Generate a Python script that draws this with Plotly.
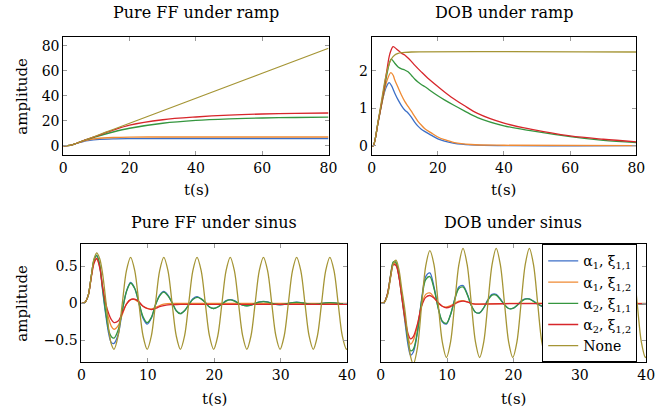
import plotly.graph_objects as go

# ---------------- data ----------------
series_names = ["α<sub>1</sub>, ξ<sub>1,1</sub>", "α<sub>1</sub>, ξ<sub>1,2</sub>",
                "α<sub>2</sub>, ξ<sub>1,1</sub>", "α<sub>2</sub>, ξ<sub>1,2</sub>", "None"]
colors = ["#3c6fc7", "#ef8a33", "#35963f", "#d7262b", "#a59535"]

# Pure FF under ramp
t_ff_ramp = [0, 2, 4, 6, 8, 10, 15, 20, 30, 40, 50, 60, 70, 80]
ff_ramp_a1x11 = [0, 0.3, 1.8, 3.4, 4.3, 4.9, 5.5, 5.7, 5.8, 5.8, 5.8, 5.8, 5.8, 5.8]
ff_ramp_a1x12 = [0, 0.3, 2.0, 3.8, 5.0, 5.8, 6.6, 6.9, 7.0, 7.0, 7.0, 7.0, 7.0, 7.0]
ff_ramp_a2x11 = [0, 0.3, 2.0, 4.0, 5.7, 7.3, 11.0, 14.0, 18.0, 20.3, 21.5, 22.2, 22.6, 22.9]
ff_ramp_a2x12 = [0, 0.3, 2.0, 4.0, 6.0, 7.8, 12.5, 16.5, 20.8, 23.0, 24.5, 25.4, 25.9, 26.2]
ff_ramp_none = [0, 0.3, 2.0, 4.0, 6.0, 8.0, 13.0, 18.0, 28.0, 38.0, 48.0, 58.0, 68.0, 78.0]

# DOB under ramp
t_dob_ramp_a1x11 = [0, 0.5, 2, 3.5, 4.5, 5.3, 6, 7, 8, 9, 10, 11, 12, 13, 14, 15, 16, 18, 20, 22, 25, 30, 40, 80]
dob_ramp_a1x11 = [0, 0, 0.65, 1.3, 1.58, 1.68, 1.6, 1.4, 1.22, 1.07, 0.95, 0.87, 0.76, 0.63, 0.52, 0.44, 0.38,
                  0.28, 0.18, 0.12, 0.06, 0.02, 0, 0]
t_dob_ramp_a1x12 = [0, 0.5, 2, 3.5, 4.5, 5.8, 6.5, 7, 8, 9, 10, 11, 12, 13, 14, 15, 16, 18, 20, 22, 25, 30, 40, 80]
dob_ramp_a1x12 = [0, 0, 0.65, 1.3, 1.7, 1.95, 1.88, 1.75, 1.55, 1.35, 1.18, 1.05, 0.92, 0.78, 0.65, 0.55, 0.46,
                  0.34, 0.23, 0.16, 0.08, 0.03, 0.01, 0]
t_dob_ramp_a2x11 = [0, 0.5, 2, 3.5, 4.5, 5.9, 7, 8, 9, 10, 11, 12, 13, 14, 15, 16, 17, 18, 20, 22, 25, 28, 32,
                    40, 48, 60, 70, 80]
dob_ramp_a2x11 = [0, 0, 0.65, 1.35, 1.85, 2.31, 2.2, 2.1, 2.05, 2.02, 1.97, 1.88, 1.78, 1.7, 1.63, 1.58, 1.52,
                  1.45, 1.33, 1.22, 1.07, 0.93, 0.75, 0.53, 0.4, 0.24, 0.14, 0.08]
t_dob_ramp_a2x12 = [0, 0.5, 2, 3.5, 4.5, 5.5, 6.5, 7.5, 9, 10, 11, 12, 13, 15, 17, 20, 24, 28, 32, 40, 48, 60, 70, 80]
dob_ramp_a2x12 = [0, 0, 0.65, 1.4, 1.95, 2.45, 2.64, 2.58, 2.47, 2.42, 2.34, 2.25, 2.15, 1.97, 1.8, 1.58, 1.3,
                  1.07, 0.86, 0.6, 0.44, 0.26, 0.17, 0.1]
t_dob_ramp_none = [0, 0.5, 2, 3, 4, 5, 6, 7, 8, 9, 10, 12, 80]
dob_ramp_none = [0, 0, 0.68, 1.2, 1.72, 2.1, 2.32, 2.42, 2.46, 2.48, 2.49, 2.5, 2.5]

# sinus time grids
t_sin = [0, 0.5, 1.0, 1.5, 1.9, 2.3, 2.75, 3.15, 3.65, 4.15, 4.5, 4.9,
         5.525, 6.15, 6.775, 7.4, 8.025, 8.65, 9.275, 9.9,
         10.525, 11.15, 11.775, 12.4, 13.025, 13.65, 14.275, 14.9,
         15.525, 16.15, 16.775, 17.4, 18.025, 18.65, 19.275, 19.9,
         20.525, 21.15, 21.775, 22.4, 23.025, 23.65, 24.275, 24.9,
         25.525, 26.15, 26.775, 27.4, 28.025, 28.65, 29.275, 29.9,
         30.525, 31.15, 31.775, 32.4, 33.025, 33.65, 34.275, 34.9,
         35.525, 36.15, 36.775, 37.4, 38.025, 38.65, 39.275, 39.9, 40]
t_sin_short = [0, 0.5, 1.0, 1.5, 1.9, 2.3, 2.75, 3.15, 3.65, 4.15, 4.5, 4.9,
               5.525, 6.15, 6.775, 7.4, 8.025, 8.65, 9.275, 9.9,
               10.525, 11.15, 11.775, 12.4, 13.025, 13.65, 14.275, 14.9,
               20, 30, 40]

# Pure FF under sinus
ff_sin_a1x11 = [0, 0.01, 0.1, 0.38, 0.58, 0.64, 0.5, 0.2, -0.15, -0.43, -0.53, -0.54,
                -0.42, -0.1, 0.16, 0.28, 0.2, 0.0, -0.2, -0.28,
                -0.2, -0.02, 0.11, 0.16, 0.11, 0.01, -0.1, -0.14,
                -0.1, -0.02, 0.06, 0.09, 0.06, 0.01, -0.05, -0.07,
                -0.05, -0.01, 0.035, 0.05, 0.035, 0.0, -0.025, -0.035,
                -0.025, 0.0, 0.018, 0.025, 0.018, 0.0, -0.014, -0.02,
                -0.014, 0.0, 0.01, 0.015, 0.01, 0.0, -0.008, -0.012,
                -0.008, 0.0, 0.006, 0.009, 0.006, 0.0, -0.005, -0.007, -0.007]
ff_sin_a1x12 = [0, 0.01, 0.1, 0.37, 0.56, 0.61, 0.5, 0.24, -0.02, -0.22, -0.31, -0.35,
                -0.3, -0.15, -0.01, 0.05, 0.05, 0.01, -0.04, -0.07,
                -0.075, -0.055, -0.03, -0.012, -0.004, 0.0, 0.0, 0.0,
                0.0, 0.0, 0.0]
ff_sin_a2x11 = [0, 0.01, 0.1, 0.38, 0.59, 0.65, 0.52, 0.22, -0.12, -0.38, -0.45, -0.47,
                -0.36, -0.1, 0.16, 0.27, 0.2, 0.01, -0.18, -0.26,
                -0.19, -0.02, 0.1, 0.15, 0.1, 0.01, -0.1, -0.14,
                -0.1, -0.02, 0.05, 0.08, 0.06, 0.01, -0.05, -0.07,
                -0.05, -0.01, 0.03, 0.045, 0.03, 0.0, -0.025, -0.033,
                -0.024, 0.0, 0.016, 0.023, 0.016, 0.0, -0.013, -0.018,
                -0.013, 0.0, 0.009, 0.013, 0.009, 0.0, -0.007, -0.01,
                -0.007, 0.0, 0.005, 0.008, 0.005, 0.0, -0.004, -0.006, -0.006]
ff_sin_a2x12 = [0, 0.01, 0.1, 0.36, 0.54, 0.6, 0.48, 0.24, 0.0, -0.15, -0.22, -0.26,
                -0.24, -0.13, -0.01, 0.05, 0.055, 0.02, -0.04, -0.07,
                -0.085, -0.07, -0.045, -0.03, -0.02, -0.018, -0.016, -0.015,
                -0.015, -0.015, -0.015]
ff_sin_none = [0, 0.01, 0.1, 0.38, 0.6, 0.68, 0.6, 0.42, 0.05, -0.38, -0.55, -0.62,
               -0.44, 0, 0.44, 0.62, 0.44, 0, -0.44, -0.62,
               -0.44, 0, 0.44, 0.62, 0.44, 0, -0.44, -0.62,
               -0.44, 0, 0.44, 0.62, 0.44, 0, -0.44, -0.62,
               -0.44, 0, 0.44, 0.62, 0.44, 0, -0.44, -0.62,
               -0.44, 0, 0.44, 0.62, 0.44, 0, -0.44, -0.62,
               -0.44, 0, 0.44, 0.62, 0.44, 0, -0.44, -0.62,
               -0.44, 0, 0.44, 0.62, 0.44, 0, -0.44, -0.62, -0.61]

# DOB under sinus
dob_sin_a1x11 = [0, 0.01, 0.12, 0.38, 0.55, 0.53, 0.36, 0.1, -0.25, -0.58, -0.7, -0.66,
                 -0.4, 0.05, 0.36, 0.41, 0.22, -0.06, -0.25, -0.28,
                 -0.15, 0.06, 0.22, 0.24, 0.13, -0.03, -0.12, -0.13,
                 -0.06, 0.05, 0.12, 0.12, 0.06, -0.02, -0.07, -0.07,
                 -0.03, 0.03, 0.06, 0.06, 0.03, -0.01, -0.04, -0.04,
                 -0.02, 0.02, 0.035, 0.035, 0.015, -0.01, -0.025, -0.02,
                 -0.01, 0.01, 0.02, 0.02, 0.01, -0.005, -0.015, -0.012,
                 -0.005, 0.006, 0.012, 0.01, 0.005, -0.004, -0.008, -0.006, -0.005]
dob_sin_a1x12 = [0, 0.01, 0.12, 0.38, 0.54, 0.53, 0.36, 0.1, -0.22, -0.47, -0.55, -0.5,
                 -0.3, -0.03, 0.12, 0.14, 0.08, 0.0, -0.04, -0.05,
                 -0.03, 0.0, 0.03, 0.035, 0.02, 0.0, -0.01, -0.01,
                 0, 0, 0]
dob_sin_a2x11 = [0, 0.01, 0.12, 0.39, 0.56, 0.55, 0.38, 0.13, -0.2, -0.52, -0.64, -0.62,
                 -0.38, 0.03, 0.32, 0.36, 0.2, -0.06, -0.24, -0.27,
                 -0.15, 0.05, 0.2, 0.22, 0.12, -0.03, -0.12, -0.13,
                 -0.06, 0.04, 0.11, 0.11, 0.05, -0.02, -0.07, -0.07,
                 -0.03, 0.02, 0.055, 0.055, 0.025, -0.01, -0.035, -0.035,
                 -0.015, 0.015, 0.03, 0.03, 0.012, -0.008, -0.02, -0.018,
                 -0.008, 0.008, 0.016, 0.015, 0.006, -0.005, -0.012, -0.01,
                 -0.004, 0.005, 0.01, 0.008, 0.003, -0.003, -0.007, -0.005, -0.004]
dob_sin_a2x12 = [0, 0.01, 0.12, 0.37, 0.52, 0.51, 0.35, 0.1, -0.2, -0.42, -0.48, -0.45,
                 -0.28, -0.04, 0.08, 0.105, 0.07, 0.01, -0.04, -0.06,
                 -0.045, -0.01, 0.02, 0.03, 0.02, 0.0, -0.01, -0.01,
                 -0.005, -0.005, -0.005]
dob_sin_none = [0, 0.01, 0.1, 0.36, 0.54, 0.58, 0.45, 0.2, -0.1, -0.5, -0.72, -0.82,
                -0.6, -0.04, 0.5, 0.71, 0.52, 0.0, -0.52, -0.73,
                -0.52, 0, 0.52, 0.74, 0.52, 0, -0.52, -0.73,
                -0.52, 0, 0.52, 0.74, 0.52, 0, -0.52, -0.73,
                -0.52, 0, 0.52, 0.74, 0.52, 0, -0.52, -0.73,
                -0.52, 0, 0.52, 0.74, 0.52, 0, -0.52, -0.73,
                -0.52, 0, 0.52, 0.74, 0.52, 0, -0.52, -0.73,
                -0.52, 0, 0.52, 0.74, 0.52, 0, -0.52, -0.73, -0.72]

ramp_ticks = [0, 20, 40, 60, 80]
sin_ticks = [0, 10, 20, 30, 40]

# ---------------- figure ----------------
W, H = 662, 412
FONT = "DejaVu Serif"
FS = 15

fig = go.Figure()

panels = [
    ("x", "y", [(t_ff_ramp, ff_ramp_a1x11), (t_ff_ramp, ff_ramp_a1x12), (t_ff_ramp, ff_ramp_a2x11),
                (t_ff_ramp, ff_ramp_a2x12), (t_ff_ramp, ff_ramp_none)], False),
    ("x2", "y2", [(t_dob_ramp_a1x11, dob_ramp_a1x11), (t_dob_ramp_a1x12, dob_ramp_a1x12),
                  (t_dob_ramp_a2x11, dob_ramp_a2x11), (t_dob_ramp_a2x12, dob_ramp_a2x12),
                  (t_dob_ramp_none, dob_ramp_none)], False),
    ("x3", "y3", [(t_sin, ff_sin_a1x11), (t_sin_short, ff_sin_a1x12), (t_sin, ff_sin_a2x11),
                  (t_sin_short, ff_sin_a2x12), (t_sin, ff_sin_none)], False),
    ("x4", "y4", [(t_sin, dob_sin_a1x11), (t_sin_short, dob_sin_a1x12), (t_sin, dob_sin_a2x11),
                  (t_sin_short, dob_sin_a2x12), (t_sin, dob_sin_none)], True),
]

for xa, ya, data, legend in panels:
    for i, (tx, vy) in enumerate(data):
        fig.add_trace(go.Scatter(
            x=tx, y=vy, xaxis=xa, yaxis=ya, mode="lines",
            line=dict(color=colors[i], width=1.3, shape="spline", smoothing=0.9),
            name=series_names[i], showlegend=legend, hoverinfo="skip"))


def px_x(p):
    return p / W


def px_y(p):
    return 1 - p / H


axis_common = dict(showline=True, linecolor="black", linewidth=1, mirror="allticks",
                   ticks="inside", ticklen=4, tickcolor="#9a9a9a", tickwidth=1,
                   showgrid=False, zeroline=False,
                   tickfont=dict(family=FONT, size=14, color="black"))

# pixel boxes of the panels
boxes = {
    "1": (60.5, 331, 37, 155),
    "2": (375, 645, 37, 155),
    "3": (79, 350, 244.3, 362.3),
    "4": (384.3, 655, 244.3, 362.3),
}

lay = {}
for k, (x0, x1, y0, y1) in boxes.items():
    sfx = "" if k == "1" else k
    lay["xaxis" + sfx] = dict(axis_common, domain=[px_x(x0), px_x(x1)], anchor="y" + sfx)
    lay["yaxis" + sfx] = dict(axis_common, domain=[px_y(y1), px_y(y0)], anchor="x" + sfx)

lay["xaxis"].update(range=[0, 80], tickvals=ramp_ticks)
lay["xaxis2"].update(range=[0, 80], tickvals=ramp_ticks)
lay["xaxis3"].update(range=[0, 40], tickvals=sin_ticks)
lay["xaxis4"].update(range=[0, 40], tickvals=sin_ticks)
lay["yaxis"].update(range=[-7.4, 87], tickvals=[0, 20, 40, 60, 80])
lay["yaxis2"].update(range=[-0.25, 2.9], tickvals=[0, 1, 2])
lay["yaxis3"].update(range=[-0.795, 0.795], tickvals=[-0.5, 0, 0.5])
lay["yaxis4"].update(range=[-0.795, 0.795], tickvals=[-0.5, 0, 0.5], showticklabels=False)

annotations = []


def ann(text, xp, yp, angle=0, size=FS):
    annotations.append(dict(text=text, x=px_x(xp), y=px_y(yp), xref="paper", yref="paper",
                            showarrow=False, xanchor="center", yanchor="middle", textangle=angle,
                            font=dict(family=FONT, size=size, color="black")))


ann("Pure FF under ramp", 196, 13, size=16)
ann("DOB under ramp", 510, 13, size=16)
ann("Pure FF under sinus", 214.5, 222.5, size=16)
ann("DOB under sinus", 519.7, 222.5, size=16)
ann("t(s)", 196, 190)
ann("t(s)", 510, 190)
ann("t(s)", 214.5, 399)
ann("t(s)", 519.7, 399)
ann("amplitude", 18, 96, -90)
ann("amplitude", 18, 303, -90)

fig.update_layout(
    width=W, height=H, margin=dict(l=0, r=0, t=0, b=0),
    paper_bgcolor="white", plot_bgcolor="white",
    font=dict(family=FONT, size=FS, color="black"),
    annotations=annotations,
    legend=dict(x=px_x(549), y=px_y(244.3), xanchor="left", yanchor="top",
                bgcolor="white", bordercolor="black", borderwidth=1,
                font=dict(family=FONT, size=14, color="black"), tracegroupgap=0,
                itemwidth=30),
    **lay,
)

fig.write_html("out.html")
